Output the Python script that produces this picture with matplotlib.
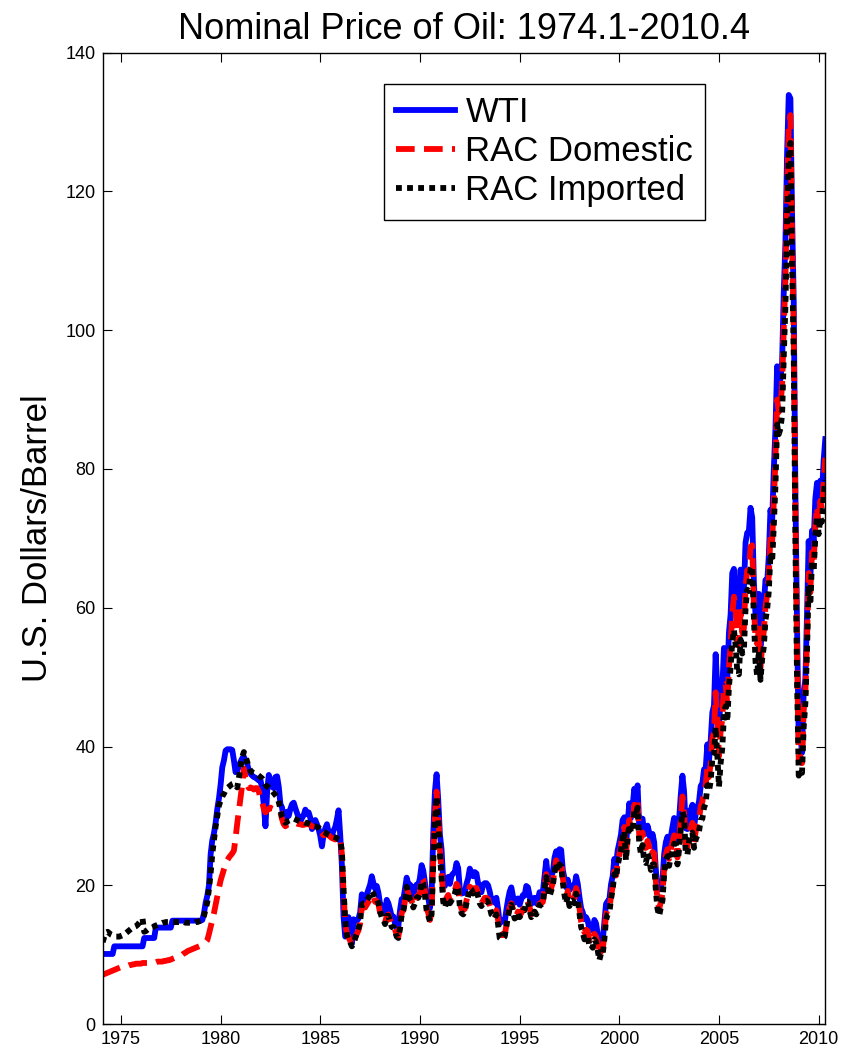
import numpy as np
import matplotlib
matplotlib.use("Agg")
import matplotlib.pyplot as plt

# Monthly prices, 1974.1 - 2010.4 (U.S. dollars per barrel)
start_year = 1974

wti = [
    10.1, 10.1, 10.1, 10.1, 10.1, 10.1, 10.1, 11.2, 11.2, 11.2, 11.2, 11.2,  # 1974
    11.2, 11.2, 11.2, 11.2, 11.2, 11.2, 11.2, 11.2, 11.2, 11.2, 11.2, 11.2,  # 1975
    11.2, 12.4, 12.4, 12.4, 12.4, 12.4, 12.4, 12.4, 13.9, 13.9, 13.9, 13.9,  # 1976
    13.9, 13.9, 13.9, 13.9, 13.9, 13.9, 14.9, 14.9, 14.9, 14.9, 14.9, 14.9,  # 1977
    14.9, 14.9, 14.9, 14.9, 14.9, 14.9, 14.9, 14.9, 14.9, 14.9, 14.9, 14.9,  # 1978
    15.0, 16.0, 17.5, 18.5, 20.0, 24.5, 26.5, 27.5, 29.0, 31.0, 32.5, 34.5,  # 1979
    37.0, 38.0, 39.4, 39.6, 39.6, 39.6, 39.5, 38.0, 36.3, 36.5, 37.2, 37.8,  # 1980
    38.3, 38.5, 38.0, 37.5, 36.5, 36.1, 35.8, 35.6, 35.5, 35.3, 35.1, 35.2,  # 1981
    33.9, 31.6, 28.5, 33.5, 35.9, 35.1, 34.2, 34.0, 35.6, 35.7, 34.2, 31.7,  # 1982
    31.2, 29.0, 28.6, 30.6, 30.0, 31.0, 31.7, 31.9, 31.1, 30.4, 29.8, 29.2,  # 1983
    29.7, 30.1, 30.9, 30.3, 30.5, 29.7, 28.1, 28.7, 29.4, 28.8, 28.1, 27.1,  # 1984
    25.6, 27.3, 28.2, 28.8, 27.6, 27.1, 27.2, 27.9, 28.4, 29.5, 30.8, 27.2,  # 1985
    22.9, 15.5, 12.6, 12.8, 15.4, 13.4, 11.6, 15.1, 14.9, 14.9, 15.2, 16.1,  # 1986
    18.7, 17.8, 18.3, 18.7, 19.4, 20.1, 21.3, 20.3, 19.5, 19.9, 18.9, 17.3,  # 1987
    17.1, 16.8, 16.2, 17.9, 17.4, 16.5, 15.5, 15.5, 14.5, 13.8, 14.1, 16.4,  # 1988
    18.0, 17.9, 19.5, 21.1, 20.1, 20.1, 19.8, 18.6, 19.6, 20.1, 19.9, 21.1,  # 1989
    22.9, 22.1, 20.4, 18.4, 18.2, 16.7, 18.5, 27.3, 33.5, 36.0, 32.3, 27.3,  # 1990
    25.2, 20.5, 19.9, 20.8, 21.2, 20.2, 21.4, 21.7, 21.9, 23.2, 22.5, 19.5,  # 1991
    18.8, 19.0, 18.9, 20.2, 21.0, 22.4, 21.8, 21.3, 21.9, 21.7, 20.3, 19.4,  # 1992
    19.0, 20.1, 20.3, 20.3, 20.0, 19.1, 17.9, 18.0, 17.5, 18.2, 16.6, 14.5,  # 1993
    15.0, 14.8, 14.7, 16.4, 17.9, 19.1, 19.7, 18.4, 17.5, 17.7, 18.1, 17.2,  # 1994
    18.0, 18.6, 18.5, 19.9, 19.7, 18.5, 17.3, 18.0, 18.2, 17.4, 18.0, 19.0,  # 1995
    18.9, 19.1, 21.3, 23.5, 21.2, 20.4, 21.3, 21.9, 24.0, 24.9, 23.7, 25.2,  # 1996
    25.1, 22.2, 21.0, 19.7, 20.8, 19.3, 19.7, 20.0, 19.8, 21.3, 20.2, 18.3,  # 1997
    16.7, 16.1, 15.1, 15.4, 14.9, 13.7, 14.2, 13.5, 15.0, 14.5, 13.0, 11.4,  # 1998
    12.5, 12.0, 14.7, 17.3, 17.7, 17.9, 20.1, 21.3, 23.8, 22.7, 25.0, 26.1,  # 1999
    27.3, 29.4, 29.8, 25.7, 28.8, 31.8, 29.7, 31.3, 33.9, 33.1, 34.4, 28.4,  # 2000
    29.6, 29.6, 27.3, 27.5, 28.6, 27.6, 26.4, 27.4, 26.2, 22.2, 19.6, 19.4,  # 2001
    19.7, 20.7, 24.5, 26.2, 27.0, 25.5, 27.0, 28.4, 29.7, 28.8, 26.4, 29.5,  # 2002
    33.0, 35.8, 33.5, 28.2, 28.1, 30.7, 30.8, 31.6, 28.3, 30.3, 31.1, 32.1,  # 2003
    34.3, 34.7, 36.7, 36.8, 40.3, 38.0, 40.8, 44.9, 45.9, 53.3, 48.5, 43.2,  # 2004
    46.8, 48.2, 54.2, 53.0, 49.8, 56.4, 59.0, 65.0, 65.6, 62.3, 58.3, 59.4,  # 2005
    65.5, 61.6, 62.7, 69.4, 70.8, 71.0, 74.4, 73.0, 63.8, 58.9, 59.1, 62.0,  # 2006
    54.5, 59.3, 60.4, 64.0, 63.5, 67.5, 74.1, 72.4, 79.9, 85.8, 94.8, 91.7,  # 2007
    93.0, 95.4, 105.5, 112.6, 125.4, 133.9, 133.4, 116.7, 104.1, 76.6, 57.3, 41.1,  # 2008
    41.7, 39.1, 47.9, 49.7, 59.0, 69.6, 64.2, 71.1, 69.4, 75.7, 78.0, 74.5,  # 2009
    78.3, 76.4, 81.2, 84.3,  # 2010
]

rac_domestic = [
    7.1, 7.2, 7.3, 7.4, 7.5, 7.6, 7.7, 7.8, 7.9, 8.0, 8.1, 8.2,  # 1974
    8.3, 8.3, 8.4, 8.4, 8.5, 8.5, 8.6, 8.6, 8.7, 8.7, 8.7, 8.7,  # 1975
    8.8, 8.8, 8.8, 8.8, 8.8, 8.8, 8.9, 8.9, 8.9, 9.0, 9.0, 9.0,  # 1976
    9.0, 9.1, 9.1, 9.2, 9.2, 9.3, 9.4, 9.5, 9.6, 9.7, 9.8, 9.9,  # 1977
    10.0, 10.2, 10.3, 10.5, 10.6, 10.7, 10.8, 10.9, 11.0, 11.1, 11.2, 11.3,  # 1978
    11.4, 11.6, 11.8, 12.1, 13.0, 14.0, 15.0, 16.0, 17.2, 18.4, 19.6, 20.7,  # 1979
    21.5, 22.3, 23.0, 23.6, 24.0, 24.3, 24.6, 25.0, 26.8, 28.9, 30.8, 32.7,  # 1980
    34.5, 36.8, 35.5, 34.5, 34.0, 34.1, 34.0, 33.8, 34.0, 34.0, 33.5, 32.5,  # 1981
    32.0, 31.0, 30.5, 30.8, 31.0, 31.2, 31.0, 30.9, 31.0, 31.0, 30.8, 30.5,  # 1982
    29.5, 28.8, 28.5, 28.7, 28.8, 28.9, 29.0, 29.0, 29.0, 28.9, 28.8, 28.8,  # 1983
    28.7, 28.7, 28.8, 28.8, 28.8, 28.7, 28.5, 28.4, 28.3, 28.2, 28.0, 27.8,  # 1984
    27.5, 27.2, 27.3, 27.4, 27.2, 27.0, 26.8, 26.7, 26.6, 26.7, 27.0, 26.8,  # 1985
    24.5, 19.0, 14.5, 13.0, 12.5, 12.0, 11.2, 11.5, 12.5, 13.0, 13.5, 14.5,  # 1986
    16.8, 17.0, 16.8, 17.2, 17.6, 18.0, 18.6, 18.4, 17.6, 17.7, 17.3, 16.0,  # 1987
    15.2, 15.0, 14.6, 15.6, 15.8, 15.0, 14.2, 14.2, 13.6, 12.8, 12.6, 14.0,  # 1988
    16.0, 16.4, 17.8, 19.6, 18.8, 18.0, 17.8, 17.0, 17.6, 18.4, 18.4, 19.0,  # 1989
    21.2, 20.8, 19.0, 16.8, 16.0, 15.0, 16.2, 24.0, 30.0, 33.5, 30.0, 25.2,  # 1990
    21.8, 18.5, 17.5, 18.2, 18.6, 17.8, 18.4, 18.8, 19.2, 20.2, 19.8, 17.4,  # 1991
    16.6, 16.4, 16.6, 17.8, 18.6, 19.8, 19.6, 19.2, 19.6, 19.6, 18.8, 17.8,  # 1992
    17.4, 17.8, 18.2, 18.2, 18.0, 17.2, 16.4, 16.2, 15.8, 16.4, 15.0, 13.0,  # 1993
    12.8, 13.0, 12.8, 14.2, 15.8, 16.8, 17.4, 16.6, 15.6, 15.6, 16.2, 15.6,  # 1994
    16.0, 16.6, 16.6, 17.8, 17.8, 16.8, 15.8, 16.2, 16.4, 16.0, 16.6, 17.4,  # 1995
    17.4, 17.6, 19.6, 21.6, 19.8, 18.8, 19.6, 20.4, 22.2, 23.6, 22.4, 23.4,  # 1996
    23.4, 21.0, 19.4, 18.2, 19.2, 17.8, 18.2, 18.6, 18.2, 19.6, 18.8, 16.8,  # 1997
    14.8, 14.0, 13.2, 13.6, 13.4, 12.0, 12.2, 11.8, 13.0, 12.6, 11.4, 9.8,  # 1998
    10.8, 10.6, 13.0, 15.8, 16.6, 16.6, 18.4, 19.8, 22.0, 21.4, 23.2, 24.4,  # 1999
    25.6, 27.6, 28.4, 24.4, 27.2, 29.4, 28.2, 29.0, 31.6, 31.0, 32.2, 27.2,  # 2000
    26.8, 27.6, 25.4, 25.4, 26.4, 25.6, 24.2, 24.8, 24.6, 20.6, 17.8, 16.6,  # 2001
    17.6, 18.8, 22.4, 24.4, 25.2, 23.8, 25.2, 26.2, 27.2, 26.8, 24.0, 26.4,  # 2002
    29.6, 32.8, 30.4, 25.6, 25.4, 27.6, 28.2, 29.0, 26.2, 27.8, 28.8, 29.4,  # 2003
    31.4, 32.0, 33.8, 34.4, 37.0, 35.6, 37.6, 41.2, 42.0, 47.8, 44.0, 38.6,  # 2004
    42.2, 44.0, 48.8, 49.0, 46.2, 51.4, 54.6, 59.2, 61.6, 59.8, 54.6, 54.8,  # 2005
    59.4, 56.4, 57.0, 63.0, 65.4, 65.2, 68.8, 69.0, 60.6, 55.4, 54.8, 57.0,  # 2006
    51.4, 54.6, 56.6, 60.2, 61.8, 64.6, 70.4, 69.4, 75.4, 81.2, 90.0, 88.2,  # 2007
    89.2, 92.0, 100.2, 107.4, 120.0, 129.4, 131.0, 113.0, 99.6, 74.6, 53.2, 38.2,  # 2008
    38.6, 37.6, 45.2, 47.6, 55.4, 65.0, 62.2, 68.0, 66.4, 71.8, 74.6, 72.0,  # 2009
    75.4, 74.2, 78.2, 81.6,  # 2010
]

rac_imported = [
    11.8, 12.6, 13.2, 13.3, 13.1, 12.9, 12.8, 12.7, 12.6, 12.6, 12.6, 12.7,  # 1974
    12.8, 13.0, 13.1, 13.3, 13.5, 13.7, 13.9, 14.0, 14.1, 14.3, 14.6, 14.9,  # 1975
    15.2, 13.3, 13.4, 13.6, 13.7, 13.8, 13.9, 14.1, 14.2, 14.3, 14.4, 14.5,  # 1976
    14.6, 14.6, 14.7, 14.7, 14.7, 14.7, 14.7, 14.7, 14.7, 14.7, 14.7, 14.7,  # 1977
    14.7, 14.7, 14.6, 14.6, 14.6, 14.6, 14.6, 14.6, 14.7, 14.7, 14.8, 14.9,  # 1978
    15.0, 15.6, 16.6, 17.6, 19.5, 21.7, 24.5, 26.5, 28.5, 30.0, 31.5, 32.2,  # 1979
    32.8, 33.2, 33.7, 34.0, 34.2, 34.4, 34.6, 34.7, 34.4, 34.1, 35.5, 37.0,  # 1980
    38.5, 39.2, 38.6, 37.8, 37.0, 36.5, 36.3, 36.2, 36.1, 36.0, 35.8, 35.6,  # 1981
    35.4, 35.0, 34.5, 34.2, 34.1, 33.9, 33.6, 33.3, 33.0, 32.7, 32.0, 31.0,  # 1982
    29.8, 29.3, 29.0, 29.2, 29.3, 29.4, 29.5, 29.6, 29.5, 29.4, 29.3, 29.2,  # 1983
    29.1, 29.1, 29.0, 29.0, 28.9, 28.8, 28.6, 28.5, 28.5, 28.4, 28.3, 28.1,  # 1984
    27.9, 27.7, 27.6, 27.4, 27.3, 27.2, 27.1, 27.0, 26.9, 26.8, 26.6, 26.5,  # 1985
    25.0, 19.5, 15.0, 12.8, 12.0, 11.8, 11.2, 11.6, 12.4, 13.0, 13.8, 14.8,  # 1986
    17.2, 17.4, 17.4, 17.8, 18.2, 18.6, 19.2, 18.8, 18.0, 18.0, 17.4, 16.2,  # 1987
    15.4, 15.0, 14.4, 15.6, 15.6, 14.8, 14.0, 14.0, 13.4, 12.6, 12.4, 13.8,  # 1988
    15.8, 16.4, 17.6, 19.8, 18.8, 18.0, 17.6, 16.8, 17.4, 18.2, 18.2, 18.8,  # 1989
    20.6, 20.2, 18.6, 16.4, 15.6, 14.8, 15.8, 23.2, 29.4, 32.8, 29.2, 24.6,  # 1990
    21.0, 17.6, 16.8, 17.6, 18.0, 17.4, 17.8, 18.2, 18.8, 19.8, 19.4, 17.0,  # 1991
    16.0, 15.8, 16.2, 17.4, 18.4, 19.6, 19.4, 18.8, 19.2, 19.2, 18.4, 17.4,  # 1992
    17.0, 17.4, 17.8, 17.8, 17.6, 16.8, 15.8, 15.6, 15.2, 15.8, 14.4, 12.4,  # 1993
    12.2, 12.4, 12.6, 14.0, 15.6, 16.6, 17.2, 16.2, 15.2, 15.4, 16.0, 15.4,  # 1994
    15.8, 16.4, 16.4, 17.6, 17.6, 16.4, 15.4, 15.8, 16.2, 15.8, 16.4, 17.2,  # 1995
    17.2, 17.4, 19.4, 21.2, 19.4, 18.4, 19.2, 20.0, 21.8, 23.2, 22.0, 23.0,  # 1996
    22.8, 20.4, 18.6, 17.4, 18.4, 17.0, 17.6, 17.8, 17.4, 18.8, 18.0, 16.0,  # 1997
    14.0, 13.2, 12.2, 12.6, 12.6, 11.2, 11.4, 11.0, 12.2, 11.8, 10.6, 9.2,  # 1998
    10.2, 10.0, 12.2, 15.0, 15.8, 16.0, 18.0, 19.4, 21.6, 21.0, 22.8, 24.0,  # 1999
    25.0, 27.0, 27.8, 23.6, 26.6, 28.8, 27.6, 28.0, 30.6, 30.2, 31.2, 26.0,  # 2000
    24.6, 25.8, 23.4, 23.2, 24.6, 23.8, 22.2, 23.0, 23.0, 19.2, 16.6, 15.6,  # 2001
    16.8, 17.8, 21.6, 23.6, 24.2, 22.8, 24.2, 24.8, 26.0, 25.8, 23.0, 25.2,  # 2002
    28.0, 30.6, 29.8, 24.6, 24.4, 26.4, 26.8, 27.6, 25.4, 26.6, 27.2, 27.8,  # 2003
    29.4, 29.6, 31.2, 31.8, 34.4, 33.6, 35.0, 38.2, 38.8, 42.8, 38.8, 34.2,  # 2004
    37.6, 39.8, 44.6, 45.8, 43.6, 48.6, 51.4, 55.2, 56.8, 54.6, 50.8, 50.4,  # 2005
    55.4, 53.4, 53.8, 60.0, 62.6, 62.4, 65.6, 66.0, 58.6, 52.2, 50.2, 53.8,  # 2006
    49.6, 52.6, 54.4, 58.2, 59.8, 62.4, 67.8, 66.6, 71.8, 77.6, 86.4, 85.0,  # 2007
    85.8, 87.8, 96.2, 103.4, 116.0, 125.0, 127.0, 109.6, 96.4, 69.4, 49.4, 35.8,  # 2008
    36.4, 36.2, 42.8, 46.2, 53.8, 63.2, 60.4, 66.8, 65.2, 70.2, 73.2, 70.6,  # 2009
    73.0, 72.4, 76.2, 78.4,  # 2010
]

xticks = [1975, 1980, 1985, 1990, 1995, 2000, 2005, 2010]
yticks = [0, 20, 40, 60, 80, 100, 120, 140]

# time axis: year + month/12
t = start_year + np.arange(1, len(wti) + 1) / 12.0

plt.rcParams['font.family'] = ['Liberation Sans', 'DejaVu Sans']

fig = plt.figure(figsize=(8.57, 10.53), dpi=100)
ax = fig.add_axes([0.1198, 0.0275, 0.8432, 0.9225])

ax.plot(t, wti, color='#0000ff', lw=4.2, label='WTI', solid_joinstyle='round')
ax.plot(t, rac_domestic, color='#ff0000', lw=4.2, ls=(0, (3.2, 1.6)),
        label='RAC Domestic')
ax.plot(t, rac_imported, color='black', lw=4.2, ls=(0, (1, 0.9)),
        dash_capstyle='butt', label='RAC Imported')

ax.set_xlim(t[0], t[-1])
ax.set_ylim(0, 140)
ax.set_xticks(xticks)
ax.set_yticks(yticks)
ax.tick_params(direction='in', length=6.5, width=0.8, labelsize=13,
               top=True, right=True, pad=5)
for s in ax.spines.values():
    s.set_linewidth(1.0)

ax.set_title('Nominal Price of Oil: 1974.1-2010.4', fontsize=26, pad=10)
ax.set_ylabel('U.S. Dollars/Barrel', fontsize=25, labelpad=8)

leg = ax.legend(loc='upper left', bbox_to_anchor=(0.389, 0.968),
                borderaxespad=0, fontsize=25, fancybox=False,
                handlelength=1.7, handletextpad=0.3, labelspacing=0.18,
                borderpad=0.35, framealpha=1)
leg.get_frame().set_edgecolor('black')
leg.get_frame().set_linewidth(1.0)

fig.savefig('out.png', dpi=100)
